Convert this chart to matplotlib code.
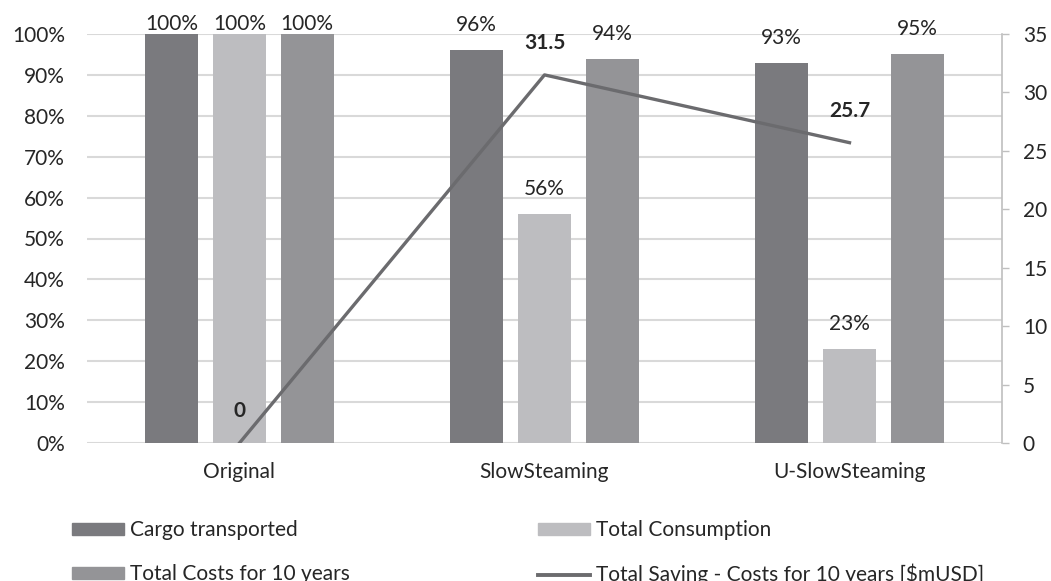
import matplotlib
matplotlib.use("Agg")
import matplotlib.pyplot as plt
from matplotlib.patches import Patch
from matplotlib.lines import Line2D
import numpy as np

plt.rcParams['font.family'] = ['Lato', 'DejaVu Sans']

categories = ["Original", "SlowSteaming", "U-SlowSteaming"]
cargo = [100, 96, 93]
consumption = [100, 56, 23]
costs = [100, 94, 95]
saving = [0, 31.5, 25.7]
saving_labels = ["0", "31.5", "25.7"]

c_cargo = "#7a7a7e"
c_cons = "#bdbdc0"
c_costs = "#949497"
c_line = "#6b6b6e"
txt = "#262626"
fs = 15

fig = plt.figure(figsize=(10.51, 5.81), dpi=100)
ax = fig.add_axes([87/1051, 1-443/581, (1002-87)/1051, (443-34)/581])
ax2 = ax.twinx()

x = np.arange(len(categories))
w = 0.174
off = 0.222
series = [(cargo, c_cargo, -off), (consumption, c_cons, 0), (costs, c_costs, off)]
for vals, col, o in series:
    bars = ax.bar(x + o, vals, width=w, color=col, zorder=2)
    for b, v in zip(bars, vals):
        dy = 7 if v >= 98 else 18
        ax.annotate(f"{v}%", (b.get_x() + b.get_width()/2, v), xytext=(0, dy),
                    textcoords="offset points", ha="center", va="center",
                    fontsize=fs, color=txt, annotation_clip=False)

ax.set_xlim(-0.5, 2.5)
ax.set_ylim(0, 100)
ax.set_yticks(np.arange(0, 101, 10))
ax.set_yticklabels([f"{v}%" for v in range(0, 101, 10)], fontsize=fs, color=txt)
ax.set_xticks(x)
ax.set_xticklabels(categories, fontsize=fs, color=txt)
ax.tick_params(axis="y", length=0, pad=16)
ax.tick_params(axis="x", length=0, pad=14)
ax.grid(axis="y", color="#d9d9d9", linewidth=1.5, zorder=0)
ax.set_axisbelow(True)
for s in ax.spines.values():
    s.set_visible(False)

ax2.plot(x, saving, color=c_line, linewidth=2.4, zorder=3)
for xi, v, lab in zip(x, saving, saving_labels):
    ax2.annotate(lab, (xi, v), xytext=(0, 23), textcoords="offset points",
                 ha="center", va="center", fontsize=fs, fontweight="bold",
                 color=txt, annotation_clip=False)
ax2.set_ylim(0, 35)
ax2.set_yticks(np.arange(0, 36, 5))
ax2.set_yticklabels([str(v) for v in range(0, 36, 5)], fontsize=fs, color=txt)
ax2.tick_params(axis="y", length=5, width=1, color="#bfbfbf", direction="out", pad=10)
for k, s in ax2.spines.items():
    s.set_visible(k == "right")
ax2.spines["right"].set_color("#bfbfbf")
ax2.spines["right"].set_linewidth(1.2)

h1 = [Patch(color=c_cargo), Patch(color=c_costs)]
l1 = ["Cargo transported", "Total Costs for 10 years"]
h2 = [Patch(color=c_cons), Line2D([], [], color=c_line, linewidth=2.8)]
l2 = ["Total Consumption", "Total Saving - Costs for 10 years [$mUSD]"]
common = dict(loc="upper left", frameon=False, fontsize=fs, handlelength=2.5,
              handleheight=0.5, handletextpad=0.3, labelspacing=1.15,
              borderpad=0, borderaxespad=0, labelcolor=txt)
leg1 = fig.legend(h1, l1, bbox_to_anchor=(72/1051, 1-520/581), **common)
leg2 = fig.legend(h2, l2, bbox_to_anchor=(538/1051, 1-520/581), **common)

fig.savefig("out.png", dpi=100)
